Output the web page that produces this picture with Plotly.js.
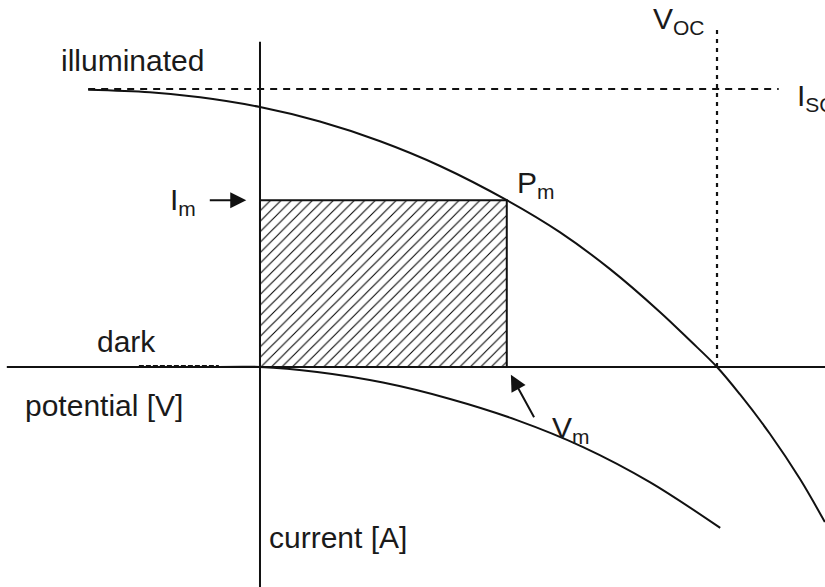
<!DOCTYPE html>
<html>
<head>
<meta charset="utf-8">
<script src="https://cdn.plot.ly/plotly-3.0.1.min.js"></script>
<style>
  html, body { margin: 0; padding: 0; background: #fff; }
  #chart { width: 825px; height: 587px; }
</style>
</head>
<body>
<div id="chart"></div>
<script>
// Solar cell I-V characteristic, normalised so that V_oc = 1 and I_sc = 1.

// Illuminated curve
const illumV = [-0.376, -0.241, -0.131, 0.000, 0.131, 0.263, 0.394, 0.540, 0.656, 0.766, 0.875, 0.941, 1.000, 1.050, 1.116, 1.182, 1.236];
const illumI = [0.997, 0.988, 0.970, 0.935, 0.883, 0.812, 0.723, 0.600, 0.485, 0.352, 0.198, 0.095, 0.000, -0.098, -0.241, -0.404, -0.558];

// Dark curve (solid part) and its dashed lead-in along the axis
const darkV = [-0.090, 0.000, 0.125, 0.269, 0.416, 0.562, 0.707, 0.853, 1.007];
const darkI = [0.000, 0.000, -0.018, -0.056, -0.115, -0.191, -0.288, -0.414, -0.579];
const darkLeadV = [-0.265, -0.09];
const darkLeadI = [0.004, 0.004];

// Characteristic points
const Voc = 1.0;
const Isc = 1.0;
const Vm = 0.54;
const Im = 0.60;

// Extents of the axes and guide lines
const vAxisSpan = [-0.554, 1.24];
const iAxisSpan = [-0.80, 1.17];
const iscLineSpan = [-0.376, 1.135];
const vocLineSpan = [0, 1.23];

const ink = '#111';
const font = { family: 'Liberation Sans, Arial, Helvetica, sans-serif', size: 30, color: '#1a1a1a' };

const traces = [
  // maximum power rectangle, hatched
  {
    x: [0, Vm, Vm, 0, 0], y: [0, 0, Im, Im, 0],
    mode: 'lines', fill: 'toself',
    fillcolor: '#fff',
    fillpattern: { shape: '/', size: 7.4, solidity: 0.14, fgcolor: '#000', bgcolor: '#fff', fgopacity: 1 },
    line: { color: ink, width: 2 }
  },
  // axes
  { x: vAxisSpan, y: [0, 0], mode: 'lines', line: { color: ink, width: 2 } },
  { x: [0, 0], y: iAxisSpan, mode: 'lines', line: { color: ink, width: 2 } },
  // I_sc and V_oc guides
  { x: iscLineSpan, y: [Isc, Isc], mode: 'lines', line: { color: ink, width: 2, dash: '7px,6px' } },
  { x: [Voc, Voc], y: vocLineSpan, mode: 'lines', line: { color: ink, width: 2.2, dash: '4px,5px' } },
  // curves
  { x: illumV, y: illumI, mode: 'lines', line: { color: ink, width: 2, shape: 'spline', smoothing: 1 } },
  { x: darkV, y: darkI, mode: 'lines', line: { color: ink, width: 2, shape: 'spline', smoothing: 1 } },
  { x: darkLeadV, y: darkLeadI, mode: 'lines', line: { color: ink, width: 2, dash: '5px,2px' } }
];

const ann = (x, y, text, extra) => Object.assign({ x, y, text, showarrow: false, font, xref: 'x', yref: 'y' }, extra || {});

const layout = {
  width: 825, height: 587,
  margin: { l: 0, r: 0, t: 0, b: 0 },
  paper_bgcolor: '#fff', plot_bgcolor: '#fff',
  showlegend: false,
  xaxis: { range: [-0.5689, 1.2363], visible: false, fixedrange: true },
  yaxis: { range: [-0.7914, 1.3201], visible: false, fixedrange: true },
  annotations: [
    ann(-0.278, 1.101, 'illuminated'),
    ann(-0.293, 0.090, 'dark'),
    ann(-0.341, -0.140, 'potential [V]'),
    ann(0.171, -0.615, 'current [A]'),
    ann(-0.168, 0.595, 'I<sub>m</sub>'),
    ann(0.604, 0.655, 'P<sub>m</sub>'),
    ann(0.917, 1.248, 'V<sub>OC</sub>'),
    ann(1.171, 0.968, 'I<sub>SC</sub>', { xanchor: 'left' }),
    ann(0.680, -0.225, 'V<sub>m</sub>'),
    // arrows
    { x: -0.030, y: Im, xref: 'x', yref: 'y', text: '', showarrow: true, ax: -38, ay: 0,
      arrowhead: 2, arrowsize: 1.6, arrowwidth: 2, arrowcolor: ink },
    { x: 0.549, y: -0.028, xref: 'x', yref: 'y', text: '', showarrow: true, ax: 24, ay: 44,
      arrowhead: 2, arrowsize: 1.6, arrowwidth: 2, arrowcolor: ink }
  ]
};

Plotly.newPlot('chart', traces, layout, { displayModeBar: false, staticPlot: true });
</script>
</body>
</html>
